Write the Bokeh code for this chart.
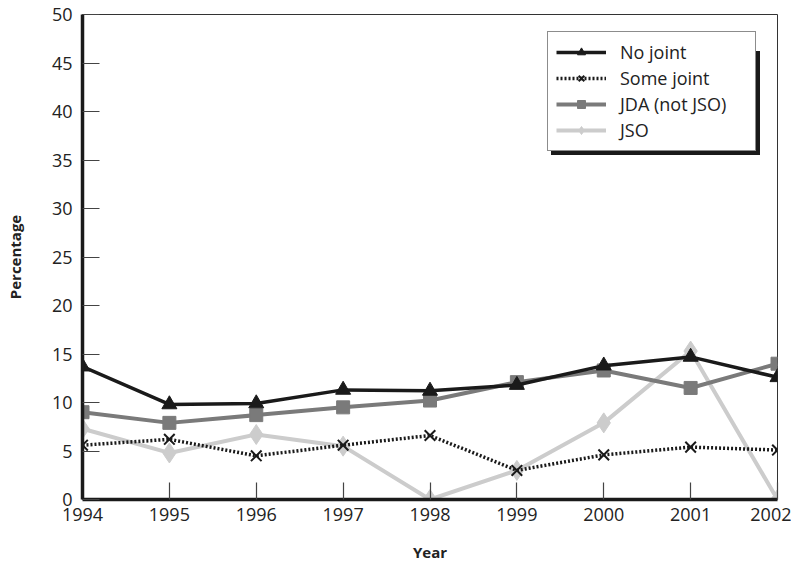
from bokeh.plotting import figure
from bokeh.models import Range1d, Legend, LegendItem, FixedTicker
from bokeh.embed import file_html
from bokeh.resources import INLINE

years = [1994, 1995, 1996, 1997, 1998, 1999, 2000, 2001, 2002]
no_joint = [13.7, 9.8, 9.9, 11.3, 11.2, 11.8, 13.8, 14.7, 12.6]
some_joint = [5.6, 6.2, 4.5, 5.6, 6.6, 3.0, 4.6, 5.4, 5.1]
jda = [9.0, 7.9, 8.7, 9.5, 10.2, 12.1, 13.3, 11.5, 14.0]
jso = [7.3, 4.8, 6.7, 5.5, 0.0, 3.0, 7.9, 15.3, 0.0]
y_ticks = [0, 5, 10, 15, 20, 25, 30, 35, 40, 45, 50]
series_names = ["No joint", "Some joint", "JDA (not JSO)", "JSO"]

FONT = "Open Sans"

p = figure(width=783, height=549, output_backend="svg", toolbar_location=None,
           x_range=Range1d(1994, 2002), y_range=Range1d(0, 50),
           min_border_left=82, min_border_right=14, min_border_top=14, min_border_bottom=57)
p.frame_width = 695
p.frame_height = 485

p.xgrid.visible = False
p.ygrid.visible = False
p.outline_line_color = "#333333"
p.outline_line_width = 1
p.background_fill_color = "white"

for ax in (p.xaxis[0], p.yaxis[0]):
    ax.axis_line_width = 3.5
    ax.axis_line_color = "#1a1a1a"
    ax.major_tick_in = 17
    ax.major_tick_out = 0
    ax.minor_tick_in = 0
    ax.minor_tick_out = 0
    ax.major_tick_line_color = "#444444"
    ax.major_tick_line_width = 1.2
    ax.major_label_text_font = FONT
    ax.major_label_text_font_size = "18px"
    ax.major_label_text_color = "#222222"
    ax.axis_label_text_font = FONT
    ax.axis_label_text_font_size = "15px"
    ax.axis_label_text_font_style = "bold"
    ax.axis_label_text_color = "#222222"

p.xaxis.ticker = FixedTicker(ticks=years)
p.yaxis.ticker = FixedTicker(ticks=y_ticks)
p.xaxis.axis_label = "Year"
p.yaxis.axis_label = "Percentage"
p.xaxis.major_label_standoff = 8
p.yaxis.major_label_standoff = 10
p.xaxis.axis_label_standoff = 18
p.yaxis.axis_label_standoff = 24

# draw order: JSO, JDA, Some joint, No joint
r_jso_l = p.line(years, jso, line_color="#cccccc", line_width=4)
r_jso_m = p.scatter(years, jso, marker="diamond", size=20, fill_color="#cccccc", line_color="#cccccc")
r_jda_l = p.line(years, jda, line_color="#7a7a7a", line_width=4)
r_jda_m = p.scatter(years, jda, marker="square", size=13, fill_color="#7a7a7a", line_color="#7a7a7a")
r_sj_l = p.line(years, some_joint, line_color="#1a1a1a", line_width=3.5, line_dash="2 2")
r_sj_m = p.scatter(years, some_joint, marker="x", size=15, line_color="#1a1a1a", line_width=2)
r_nj_l = p.line(years, no_joint, line_color="#1a1a1a", line_width=3.5)
r_nj_m = p.scatter(years, no_joint, marker="triangle", size=15, fill_color="#1a1a1a", line_color="#1a1a1a")

renderer_pairs = [[r_nj_l, r_nj_m], [r_sj_l, r_sj_m], [r_jda_l, r_jda_m], [r_jso_l, r_jso_m]]

def style(lg):
    lg.label_text_font = FONT
    lg.label_text_font_size = "18px"
    lg.label_text_color = "#222222"
    lg.glyph_width = 50
    lg.glyph_height = 20
    lg.label_height = 20
    lg.label_width = 127
    lg.label_standoff = 14
    lg.spacing = 2
    lg.padding = 8
    lg.margin = 0
    lg.border_line_color = "#1a1a1a"
    lg.border_line_width = 1.5
    lg.background_fill_alpha = 1.0

# drop shadow behind the legend box (blank labels, same geometry)
shadow = Legend(items=[LegendItem(label=" ", renderers=rs) for rs in renderer_pairs],
                location=(469, 344))
style(shadow)
shadow.background_fill_color = "#1a1a1a"
shadow.label_text_color = "#1a1a1a"
p.add_layout(shadow, "center")

legend = Legend(items=[LegendItem(label=n, renderers=rs) for n, rs in zip(series_names, renderer_pairs)],
                location=(465, 348))
style(legend)
legend.background_fill_color = "white"
p.add_layout(legend, "center")

open("out.html", "w").write(file_html(p, INLINE))
